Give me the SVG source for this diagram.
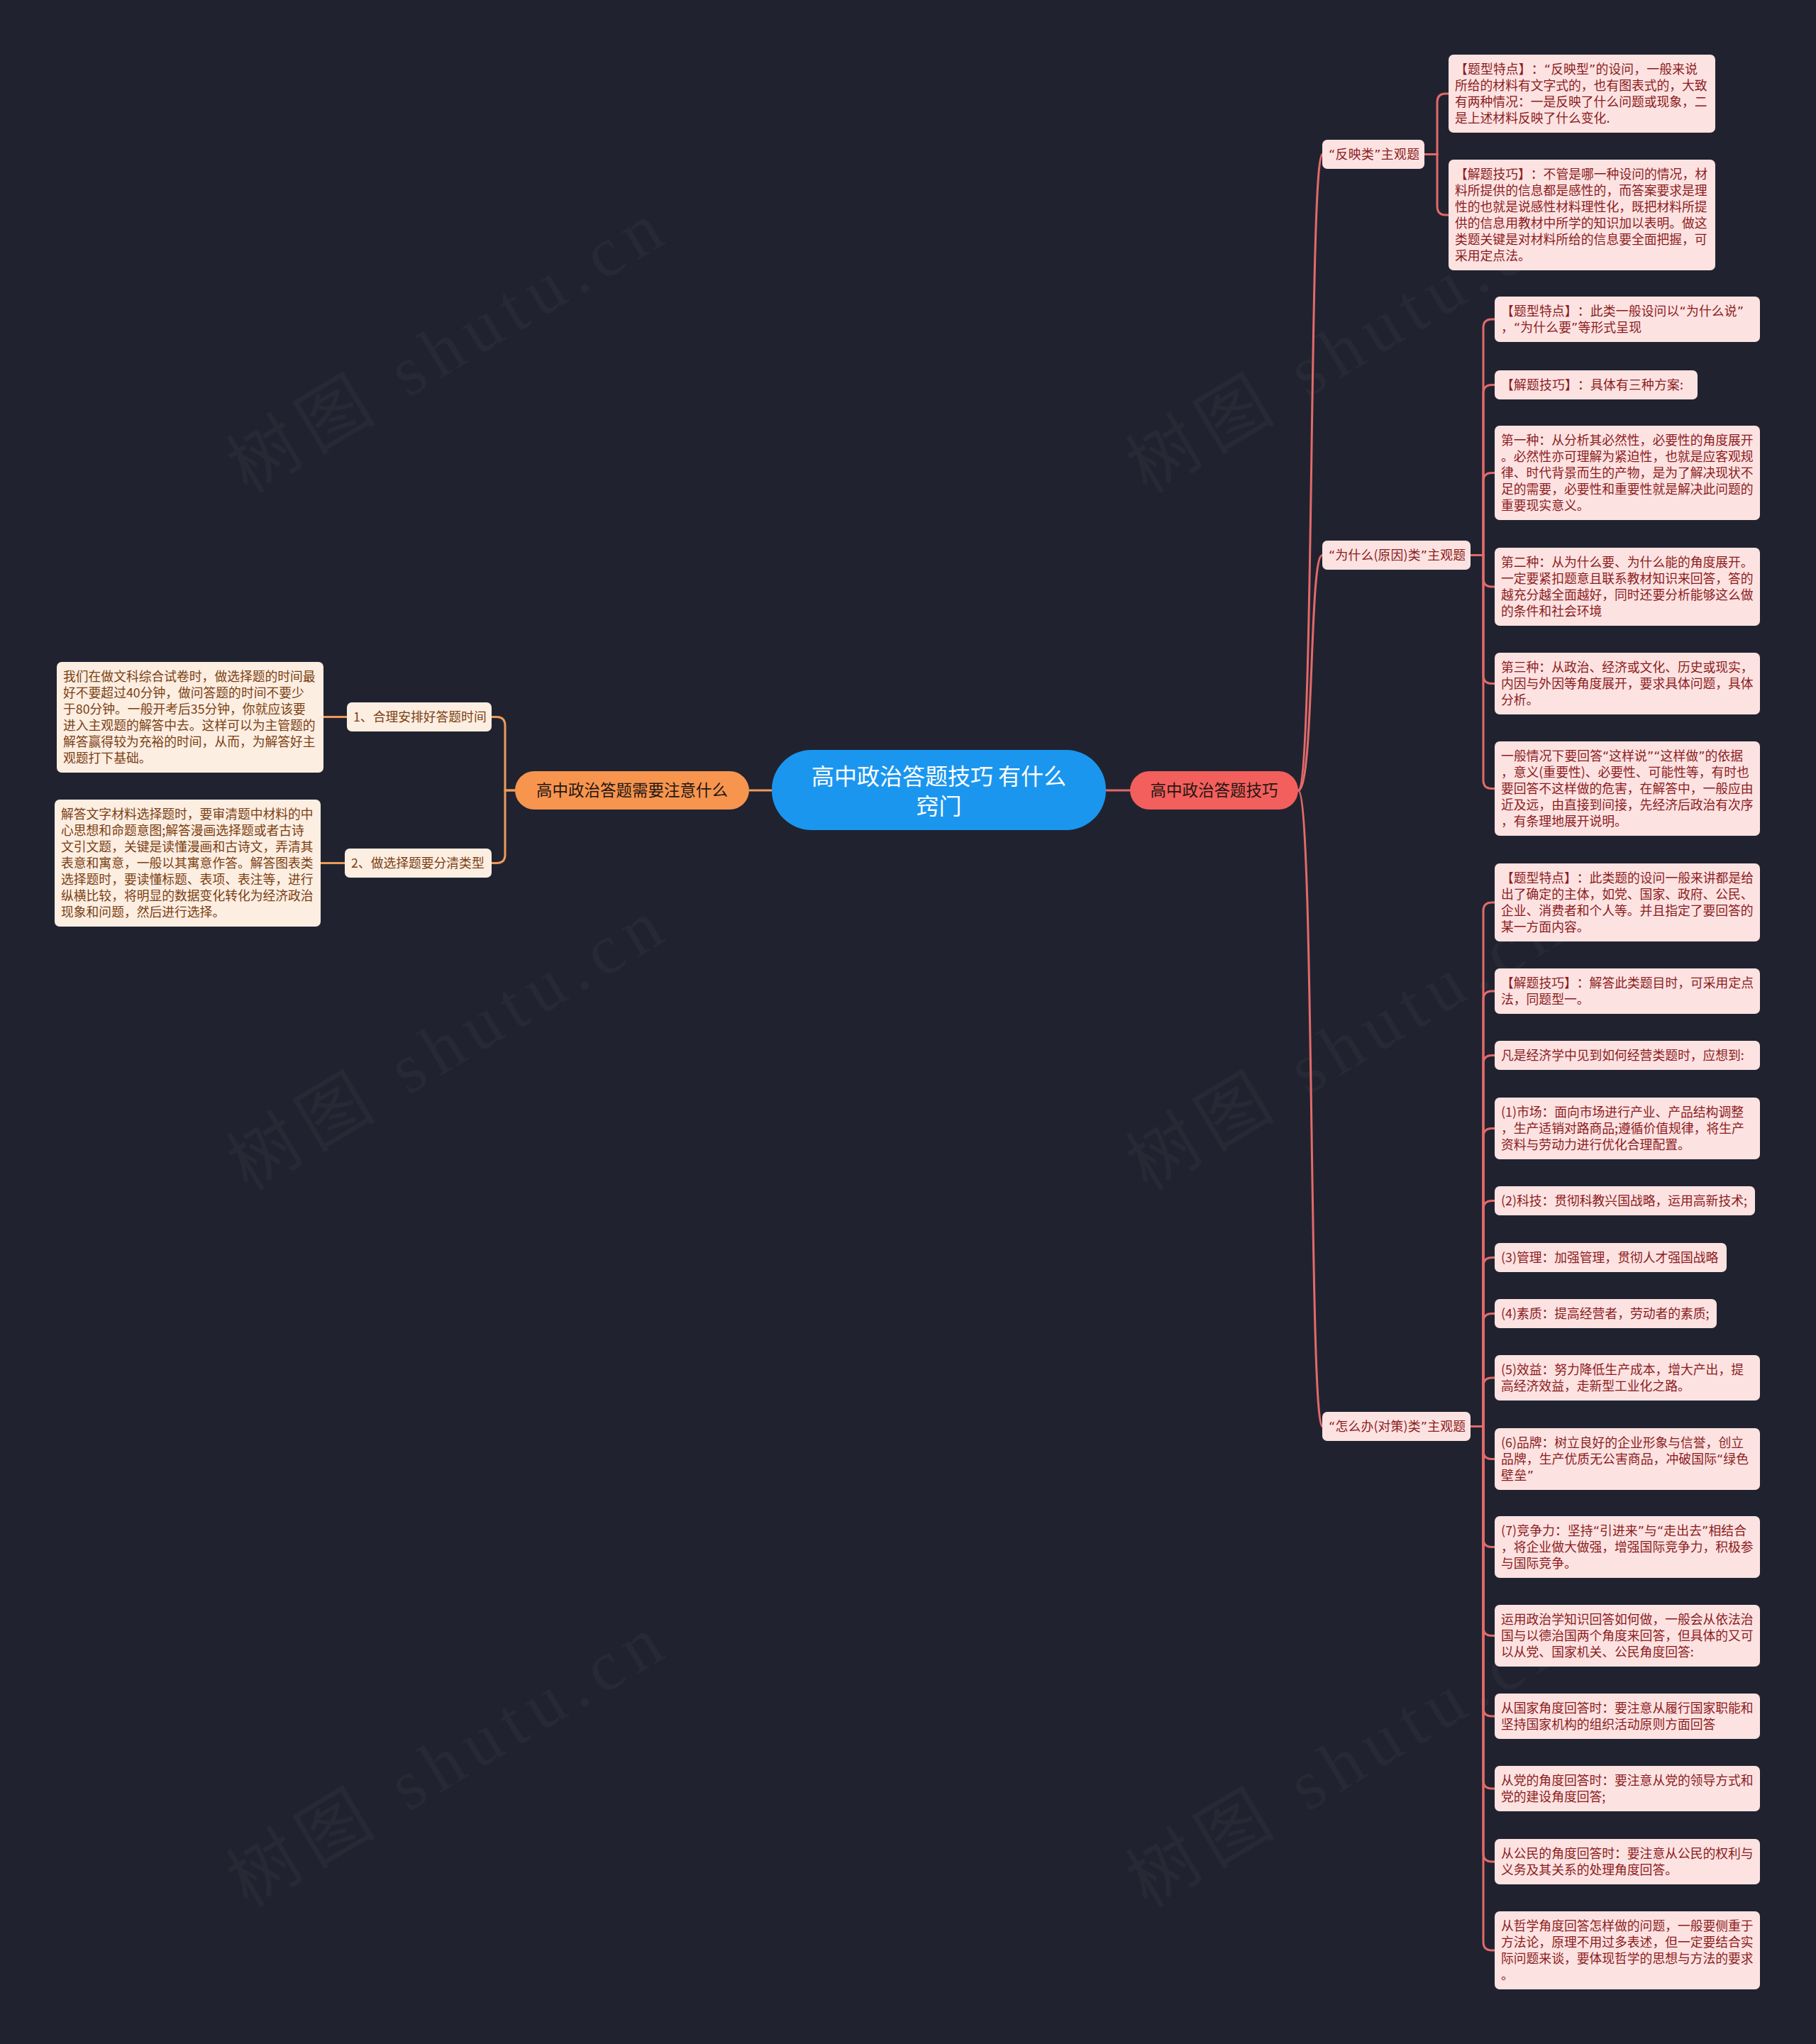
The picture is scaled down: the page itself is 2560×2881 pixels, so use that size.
<svg xmlns="http://www.w3.org/2000/svg" width="2560" height="2881" viewBox="0 0 2560 2881">
<style>
.bg{fill:#20232f}
.wm{font-family:"Liberation Serif","Noto Sans CJK SC",serif;font-size:100px;fill:#ffffff;fill-opacity:0.03}
.root{fill:#1b96ef}
.t-root{font-family:"Noto Sans CJK SC","Noto Sans",sans-serif;font-size:32px;fill:#ffffff;text-anchor:middle}
.b-or{fill:#f7954f}
.b-rd{fill:#f35f5d}
.t-main{font-family:"Noto Sans CJK SC","Noto Sans",sans-serif;font-size:22.5px;fill:#241612;text-anchor:middle}
.n-r{fill:#fde2e2}
.n-l{fill:#fdeee2}
.t{font-family:"Noto Sans CJK SC","Noto Sans",sans-serif;font-size:17.8px;text-spacing-trim:space-all}
.q{font-family:"DejaVu Sans",sans-serif}
.t-r{fill:#8b1c1c}
.t-l{fill:#7a3f12}
.c-r{fill:none;stroke:#e36a6a;stroke-width:3;stroke-linecap:round}
.c-l{fill:none;stroke:#ee9a5a;stroke-width:3;stroke-linecap:round}
</style>
<rect class="bg" x="0" y="0" width="2560" height="2881"/>
<g id="watermarks">
<text class="wm" transform="translate(349,697) rotate(-31)" textLength="690" lengthAdjust="spacing">树图 shutu.cn</text>
<text class="wm" transform="translate(1617,697) rotate(-31)" textLength="690" lengthAdjust="spacing">树图 shutu.cn</text>
<text class="wm" transform="translate(349,1680) rotate(-31)" textLength="690" lengthAdjust="spacing">树图 shutu.cn</text>
<text class="wm" transform="translate(1617,1680) rotate(-31)" textLength="690" lengthAdjust="spacing">树图 shutu.cn</text>
<text class="wm" transform="translate(349,2690) rotate(-31)" textLength="690" lengthAdjust="spacing">树图 shutu.cn</text>
<text class="wm" transform="translate(1617,2690) rotate(-31)" textLength="690" lengthAdjust="spacing">树图 shutu.cn</text>
</g>
<g id="connectors">
<path class="c-l" d="M1088,1114 H1056"/>
<path class="c-r" d="M1559,1114 H1593"/>
<path class="c-l" d="M726,1114 H712 V1022.5 Q712,1010.5 700,1010.5 H693"/>
<path class="c-l" d="M726,1114 H712 V1204.5 Q712,1216.5 700,1216.5 H693"/>
<path class="c-l" d="M489,1010.5 H456"/>
<path class="c-l" d="M486,1216.5 H452"/>
<path class="c-r" d="M1830,1114 C1853,1114 1845,217.5 1864,217.5"/>
<path class="c-r" d="M1830,1114 C1853,1114 1845,782.5 1864,782.5"/>
<path class="c-r" d="M1830,1114 C1853,1114 1845,2010.5 1864,2010.5"/>
<path class="c-r" d="M2008,217.5 H2026 V144 Q2026,132 2038,132 H2042"/>
<path class="c-r" d="M2008,217.5 H2026 V291 Q2026,303 2038,303 H2042"/>
<path class="c-r" d="M2073,782.5 H2091 V462 Q2091,450 2103,450 H2107"/>
<path class="c-r" d="M2073,782.5 H2091 V554.5 Q2091,542.5 2103,542.5 H2107"/>
<path class="c-r" d="M2073,782.5 H2091 V678.5 Q2091,666.5 2103,666.5 H2107"/>
<path class="c-r" d="M2073,782.5 H2091 V815 Q2091,827 2103,827 H2107"/>
<path class="c-r" d="M2073,782.5 H2091 V951.5 Q2091,963.5 2103,963.5 H2107"/>
<path class="c-r" d="M2073,782.5 H2091 V1099.5 Q2091,1111.5 2103,1111.5 H2107"/>
<path class="c-r" d="M2073,2010.5 H2091 V1284 Q2091,1272 2103,1272 H2107"/>
<path class="c-r" d="M2073,2010.5 H2091 V1409 Q2091,1397 2103,1397 H2107"/>
<path class="c-r" d="M2073,2010.5 H2091 V1499.5 Q2091,1487.5 2103,1487.5 H2107"/>
<path class="c-r" d="M2073,2010.5 H2091 V1602.5 Q2091,1590.5 2103,1590.5 H2107"/>
<path class="c-r" d="M2073,2010.5 H2091 V1704.5 Q2091,1692.5 2103,1692.5 H2107"/>
<path class="c-r" d="M2073,2010.5 H2091 V1784.5 Q2091,1772.5 2103,1772.5 H2107"/>
<path class="c-r" d="M2073,2010.5 H2091 V1863.5 Q2091,1851.5 2103,1851.5 H2107"/>
<path class="c-r" d="M2073,2010.5 H2091 V1954 Q2091,1942 2103,1942 H2107"/>
<path class="c-r" d="M2073,2010.5 H2091 V2044.5 Q2091,2056.5 2103,2056.5 H2107"/>
<path class="c-r" d="M2073,2010.5 H2091 V2168.5 Q2091,2180.5 2103,2180.5 H2107"/>
<path class="c-r" d="M2073,2010.5 H2091 V2293.5 Q2091,2305.5 2103,2305.5 H2107"/>
<path class="c-r" d="M2073,2010.5 H2091 V2407 Q2091,2419 2103,2419 H2107"/>
<path class="c-r" d="M2073,2010.5 H2091 V2509 Q2091,2521 2103,2521 H2107"/>
<path class="c-r" d="M2073,2010.5 H2091 V2612 Q2091,2624 2103,2624 H2107"/>
<path class="c-r" d="M2073,2010.5 H2091 V2737 Q2091,2749 2103,2749 H2107"/>
</g>
<g id="root">
<rect class="root" x="1088" y="1057" width="471" height="113" rx="56"/>
<text class="t-root" x="1323.5" y="1106">高中政治答题技巧 有什么<tspan x="1323.5" y="1148">窍门</tspan></text>
</g>
<g id="main-left">
<rect class="b-or" x="726" y="1087" width="330" height="54" rx="27"/>
<text class="t-main" x="891" y="1122">高中政治答题需要注意什么</text>
</g>
<g id="main-right">
<rect class="b-rd" x="1593" y="1087" width="237" height="54" rx="27"/>
<text class="t-main" x="1711.5" y="1122">高中政治答题技巧</text>
</g>
<g id="l-n1">
<rect class="n-l" x="489" y="990" width="204" height="41" rx="7"/>
<text class="t t-l" x="498" y="1017">1、合理安排好答题时间</text>
</g>
<g id="l-n2">
<rect class="n-l" x="486" y="1196" width="207" height="41" rx="7"/>
<text class="t t-l" x="495" y="1223">2、做选择题要分清类型</text>
</g>
<g id="l-leaf1">
<rect class="n-l" x="80" y="933" width="376" height="156" rx="7"/>
<text class="t t-l" x="89" y="960">我们在做文科综合试卷时，做选择题的时间最<tspan x="89" dy="23">好不要超过40分钟，做问答题的时间不要少</tspan><tspan x="89" dy="23">于80分钟。一般开考后35分钟，你就应该要</tspan><tspan x="89" dy="23">进入主观题的解答中去。这样可以为主管题的</tspan><tspan x="89" dy="23">解答赢得较为充裕的时间，从而，为解答好主</tspan><tspan x="89" dy="23">观题打下基础。</tspan></text>
</g>
<g id="l-leaf2">
<rect class="n-l" x="77" y="1127" width="375" height="179" rx="7"/>
<text class="t t-l" x="86" y="1154">解答文字材料选择题时，要审清题中材料的中<tspan x="86" dy="23">心思想和命题意图;解答漫画选择题或者古诗</tspan><tspan x="86" dy="23">文引文题，关键是读懂漫画和古诗文，弄清其</tspan><tspan x="86" dy="23">表意和寓意，一般以其寓意作答。解答图表类</tspan><tspan x="86" dy="23">选择题时，要读懂标题、表项、表注等，进行</tspan><tspan x="86" dy="23">纵横比较，将明显的数据变化转化为经济政治</tspan><tspan x="86" dy="23">现象和问题，然后进行选择。</tspan></text>
</g>
<g id="r-n1">
<rect class="n-r" x="1864" y="197" width="144" height="41" rx="7"/>
<text class="t t-r" x="1873" y="224" textLength="128"><tspan class="q">“</tspan>反映类<tspan class="q">”</tspan>主观题</text>
</g>
<g id="r-n1-a">
<rect class="n-r" x="2042" y="77" width="376" height="110" rx="7"/>
<text class="t t-r" x="2051" y="104"><tspan textLength="342">【题型特点】：<tspan class="q">“</tspan>反映型<tspan class="q">”</tspan>的设问，一般来说</tspan><tspan x="2051" dy="23">所给的材料有文字式的，也有图表式的，大致</tspan><tspan x="2051" dy="23">有两种情况：一是反映了什么问题或现象，二</tspan><tspan x="2051" dy="23">是上述材料反映了什么变化.</tspan></text>
</g>
<g id="r-n1-b">
<rect class="n-r" x="2042" y="225" width="376" height="156" rx="7"/>
<text class="t t-r" x="2051" y="252"><tspan textLength="356">【解题技巧】：不管是哪一种设问的情况，材</tspan><tspan x="2051" dy="23">料所提供的信息都是感性的，而答案要求是理</tspan><tspan x="2051" dy="23">性的也就是说感性材料理性化，既把材料所提</tspan><tspan x="2051" dy="23">供的信息用教材中所学的知识加以表明。做这</tspan><tspan x="2051" dy="23">类题关键是对材料所给的信息要全面把握，可</tspan><tspan x="2051" dy="23">采用定点法。</tspan></text>
</g>
<g id="r-n2">
<rect class="n-r" x="1864" y="762" width="209" height="41" rx="7"/>
<text class="t t-r" x="1873" y="789" textLength="193"><tspan class="q">“</tspan>为什么(原因)类<tspan class="q">”</tspan>主观题</text>
</g>
<g id="r-n2-1">
<rect class="n-r" x="2107" y="418" width="374" height="64" rx="7"/>
<text class="t t-r" x="2116" y="445"><tspan textLength="342">【题型特点】：此类一般设问以<tspan class="q">“</tspan>为什么说<tspan class="q">”</tspan></tspan><tspan x="2116" dy="23" textLength="198">，<tspan class="q">“</tspan>为什么要<tspan class="q">”</tspan>等形式呈现</tspan></text>
</g>
<g id="r-n2-2">
<rect class="n-r" x="2107" y="522" width="286" height="41" rx="7"/>
<text class="t t-r" x="2116" y="549" textLength="257">【解题技巧】：具体有三种方案:</text>
</g>
<g id="r-n2-3">
<rect class="n-r" x="2107" y="600" width="374" height="133" rx="7"/>
<text class="t t-r" x="2116" y="627">第一种：从分析其必然性，必要性的角度展开<tspan x="2116" dy="23">。必然性亦可理解为紧迫性，也就是应客观规</tspan><tspan x="2116" dy="23">律、时代背景而生的产物，是为了解决现状不</tspan><tspan x="2116" dy="23">足的需要，必要性和重要性就是解决此问题的</tspan><tspan x="2116" dy="23">重要现实意义。</tspan></text>
</g>
<g id="r-n2-4">
<rect class="n-r" x="2107" y="772" width="374" height="110" rx="7"/>
<text class="t t-r" x="2116" y="799">第二种：从为什么要、为什么能的角度展开。<tspan x="2116" dy="23">一定要紧扣题意且联系教材知识来回答，答的</tspan><tspan x="2116" dy="23">越充分越全面越好，同时还要分析能够这么做</tspan><tspan x="2116" dy="23">的条件和社会环境</tspan></text>
</g>
<g id="r-n2-5">
<rect class="n-r" x="2107" y="920" width="374" height="87" rx="7"/>
<text class="t t-r" x="2116" y="947">第三种：从政治、经济或文化、历史或现实，<tspan x="2116" dy="23">内因与外因等角度展开，要求具体问题，具体</tspan><tspan x="2116" dy="23">分析。</tspan></text>
</g>
<g id="r-n2-6">
<rect class="n-r" x="2107" y="1045" width="374" height="133" rx="7"/>
<text class="t t-r" x="2116" y="1072"><tspan textLength="341">一般情况下要回答<tspan class="q">“</tspan>这样说<tspan class="q">”“</tspan>这样做<tspan class="q">”</tspan>的依据</tspan><tspan x="2116" dy="23">，意义(重要性)、必要性、可能性等，有时也</tspan><tspan x="2116" dy="23">要回答不这样做的危害，在解答中，一般应由</tspan><tspan x="2116" dy="23">近及远，由直接到间接，先经济后政治有次序</tspan><tspan x="2116" dy="23">，有条理地展开说明。</tspan></text>
</g>
<g id="r-n3">
<rect class="n-r" x="1864" y="1990" width="209" height="41" rx="7"/>
<text class="t t-r" x="1873" y="2017" textLength="193"><tspan class="q">“</tspan>怎么办(对策)类<tspan class="q">”</tspan>主观题</text>
</g>
<g id="r-n3-1">
<rect class="n-r" x="2107" y="1217" width="374" height="110" rx="7"/>
<text class="t t-r" x="2116" y="1244"><tspan textLength="356">【题型特点】：此类题的设问一般来讲都是给</tspan><tspan x="2116" dy="23">出了确定的主体，如党、国家、政府、公民、</tspan><tspan x="2116" dy="23">企业、消费者和个人等。并且指定了要回答的</tspan><tspan x="2116" dy="23">某一方面内容。</tspan></text>
</g>
<g id="r-n3-2">
<rect class="n-r" x="2107" y="1365" width="374" height="64" rx="7"/>
<text class="t t-r" x="2116" y="1392"><tspan textLength="356">【解题技巧】：解答此类题目时，可采用定点</tspan><tspan x="2116" dy="23">法，同题型一。</tspan></text>
</g>
<g id="r-n3-3">
<rect class="n-r" x="2107" y="1467" width="374" height="41" rx="7"/>
<text class="t t-r" x="2116" y="1494">凡是经济学中见到如何经营类题时，应想到:</text>
</g>
<g id="r-n3-4">
<rect class="n-r" x="2107" y="1547" width="374" height="87" rx="7"/>
<text class="t t-r" x="2116" y="1574">(1)市场：面向市场进行产业、产品结构调整<tspan x="2116" dy="23">，生产适销对路商品;遵循价值规律，将生产</tspan><tspan x="2116" dy="23">资料与劳动力进行优化合理配置。</tspan></text>
</g>
<g id="r-n3-5">
<rect class="n-r" x="2107" y="1672" width="367" height="41" rx="7"/>
<text class="t t-r" x="2116" y="1699">(2)科技：贯彻科教兴国战略，运用高新技术;</text>
</g>
<g id="r-n3-6">
<rect class="n-r" x="2107" y="1752" width="327" height="41" rx="7"/>
<text class="t t-r" x="2116" y="1779">(3)管理：加强管理，贯彻人才强国战略</text>
</g>
<g id="r-n3-7">
<rect class="n-r" x="2107" y="1831" width="313" height="41" rx="7"/>
<text class="t t-r" x="2116" y="1858">(4)素质：提高经营者，劳动者的素质;</text>
</g>
<g id="r-n3-8">
<rect class="n-r" x="2107" y="1910" width="374" height="64" rx="7"/>
<text class="t t-r" x="2116" y="1937">(5)效益：努力降低生产成本，增大产出，提<tspan x="2116" dy="23">高经济效益，走新型工业化之路。</tspan></text>
</g>
<g id="r-n3-9">
<rect class="n-r" x="2107" y="2013" width="374" height="87" rx="7"/>
<text class="t t-r" x="2116" y="2040">(6)品牌：树立良好的企业形象与信誉，创立<tspan x="2116" dy="23" textLength="349">品牌，生产优质无公害商品，冲破国际<tspan class="q">“</tspan>绿色</tspan><tspan x="2116" dy="23" textLength="46">壁垒<tspan class="q">”</tspan></tspan></text>
</g>
<g id="r-n3-10">
<rect class="n-r" x="2107" y="2137" width="374" height="87" rx="7"/>
<text class="t t-r" x="2116" y="2164"><tspan textLength="346">(7)竞争力：坚持<tspan class="q">“</tspan>引进来<tspan class="q">”</tspan>与<tspan class="q">“</tspan>走出去<tspan class="q">”</tspan>相结合</tspan><tspan x="2116" dy="23">，将企业做大做强，增强国际竞争力，积极参</tspan><tspan x="2116" dy="23">与国际竞争。</tspan></text>
</g>
<g id="r-n3-11">
<rect class="n-r" x="2107" y="2262" width="374" height="87" rx="7"/>
<text class="t t-r" x="2116" y="2289">运用政治学知识回答如何做，一般会从依法治<tspan x="2116" dy="23">国与以德治国两个角度来回答，但具体的又可</tspan><tspan x="2116" dy="23">以从党、国家机关、公民角度回答:</tspan></text>
</g>
<g id="r-n3-12">
<rect class="n-r" x="2107" y="2387" width="374" height="64" rx="7"/>
<text class="t t-r" x="2116" y="2414">从国家角度回答时：要注意从履行国家职能和<tspan x="2116" dy="23">坚持国家机构的组织活动原则方面回答</tspan></text>
</g>
<g id="r-n3-13">
<rect class="n-r" x="2107" y="2489" width="374" height="64" rx="7"/>
<text class="t t-r" x="2116" y="2516">从党的角度回答时：要注意从党的领导方式和<tspan x="2116" dy="23">党的建设角度回答;</tspan></text>
</g>
<g id="r-n3-14">
<rect class="n-r" x="2107" y="2592" width="374" height="64" rx="7"/>
<text class="t t-r" x="2116" y="2619">从公民的角度回答时：要注意从公民的权利与<tspan x="2116" dy="23">义务及其关系的处理角度回答。</tspan></text>
</g>
<g id="r-n3-15">
<rect class="n-r" x="2107" y="2694" width="374" height="110" rx="7"/>
<text class="t t-r" x="2116" y="2721">从哲学角度回答怎样做的问题，一般要侧重于<tspan x="2116" dy="23">方法论，原理不用过多表述，但一定要结合实</tspan><tspan x="2116" dy="23">际问题来谈，要体现哲学的思想与方法的要求</tspan><tspan x="2116" dy="23">。</tspan></text>
</g>
</svg>
